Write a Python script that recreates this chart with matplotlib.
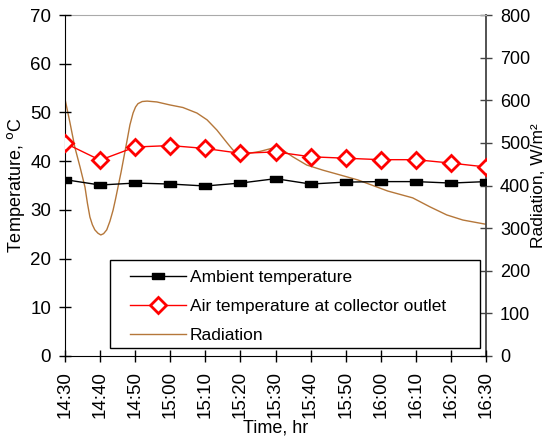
import matplotlib
matplotlib.use("Agg")
import matplotlib.pyplot as plt
from matplotlib.patches import Rectangle

plt.rcParams['font.family'] = ['Liberation Sans', 'DejaVu Sans']

# time in minutes after 14:30
time_labels = ['14:30', '14:40', '14:50', '15:00', '15:10', '15:20', '15:30',
               '15:40', '15:50', '16:00', '16:10', '16:20', '16:30']
time_min = [0, 10, 20, 30, 40, 50, 60, 70, 80, 90, 100, 110, 120]

ambient = [36.2, 35.1, 35.5, 35.3, 34.9, 35.5, 36.4, 35.3, 35.7, 35.8, 35.8, 35.5, 35.8]
air_outlet = [43.7, 40.2, 42.9, 43.2, 42.6, 41.6, 41.9, 40.9, 40.6, 40.3, 40.3, 39.6, 38.8]

# radiation
rad_time = [0, 1.4, 2.8, 4.3, 5.7, 6.4, 7.1, 7.8, 8.5, 9.4, 10.2, 11.0, 11.9, 12.8,
            13.7, 14.4, 15.1, 16.0, 16.8, 17.7, 18.5, 19.4, 20.1, 20.8, 22.0, 23.4,
            26.2, 29.9, 33.6, 37.6, 40.5, 43.3, 46.2, 47.9, 49.9, 52.7, 55.6,
            59.3, 62.1, 65.0, 68.9, 73.5, 78.3, 83.5, 92.0, 99.1, 104.0, 108.8,
            113.4, 120]
radiation = [603, 548, 490, 443, 396, 358, 326, 308, 296, 288, 284, 287, 296, 316,
             342, 368, 396, 432, 467, 506, 542, 570, 584, 592, 597, 598,
             596, 589, 583, 570, 554, 530, 500, 483, 476, 476, 480,
             488, 483, 467, 448, 436, 425, 413, 387, 371, 350, 331,
             319, 309]

fig = plt.figure(figsize=(5.49, 4.37), dpi=100)
ax = fig.add_axes([65 / 549, 1 - 356 / 437, 421 / 549, 341 / 437])
ax2 = ax.twinx()

rect = [(-1, -0.55), (1, -0.55), (1, 0.55), (-1, 0.55), (-1, -0.55)]
l1, = ax.plot(time_min, ambient, color='black', lw=1, marker=rect, markersize=9,
              markerfacecolor='black', markeredgecolor='black',
              label='Ambient temperature', zorder=4)
l2, = ax.plot(time_min, air_outlet, color='red', lw=1, marker='D', markersize=8,
              markerfacecolor='white', markeredgecolor='red', markeredgewidth=2,
              label='Air temperature at collector outlet', zorder=5)
l3, = ax2.plot(rad_time, radiation, color='#b5773a', lw=1, label='Radiation')

ax.set_zorder(ax2.get_zorder() + 1)
ax.patch.set_visible(False)

ax.set_xlim(0, 120)
ax.set_ylim(0, 70)
ax2.set_ylim(0, 800)
ax.set_yticks(range(0, 71, 10))
ax2.set_yticks(range(0, 801, 100))
ax.set_xticks(time_min)
ax.set_xticklabels(time_labels, rotation=90)

ax.tick_params(axis='both', direction='inout', length=8, width=1, labelsize=13.5)
ax.tick_params(axis='x', pad=7)
ax.tick_params(axis='y', pad=6)
ax2.tick_params(axis='y', direction='inout', length=8, width=1, labelsize=13,
                color='#444444', pad=6)

for sp in ['top', 'right']:
    ax.spines[sp].set_visible(False)
ax2.spines['top'].set_color('#aaaaaa')
ax2.spines['right'].set_color('#444444')
ax2.spines['right'].set_linewidth(1.3)
ax2.spines['left'].set_visible(False)
ax2.spines['bottom'].set_visible(False)

ax.set_ylabel('Temperature, $^{\\rm o}$C', fontsize=13, labelpad=2)
ax.set_xlabel('Time, hr', fontsize=13, labelpad=1)
ax2.set_ylabel('Radiation, W/m²', fontsize=12.5)
ax2.yaxis.set_label_coords((531 - 65) / 421, 0.5)

# legend box drawn separately so the entries can sit inset from its edge
ax.add_patch(Rectangle((45 / 421, 8 / 341), 370 / 421, 88 / 341,
                       transform=ax.transAxes, facecolor='white',
                       edgecolor='black', lw=1, zorder=6))
leg = ax.legend(handles=[l1, l2, l3], loc='upper left',
                bbox_to_anchor=(65 / 421, 86.5 / 341),
                fontsize=12.5, frameon=False, handlelength=3.2, borderpad=0,
                borderaxespad=0, labelspacing=0.82, handletextpad=0.25)
leg.set_zorder(7)

fig.savefig('out.png', dpi=100)
